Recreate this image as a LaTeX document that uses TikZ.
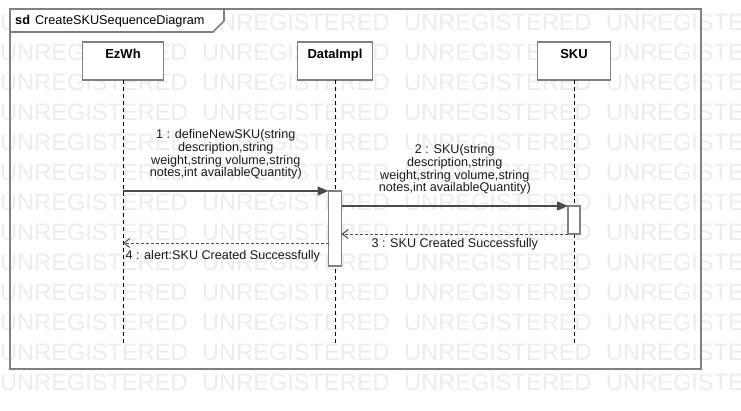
\documentclass[tikz,border=0pt]{standalone}
\usepackage{fontspec}
\setmainfont{Liberation Sans}
\usetikzlibrary{arrows.meta,positioning}

\definecolor{framegray}{HTML}{808080}
\definecolor{msggray}{HTML}{4A4A4A}
\definecolor{wmgray}{HTML}{ECECEC}

\tikzset{
  watermark/.style={anchor=west, inner sep=0pt, text=wmgray, font=\fontsize{23.6}{23.6}\selectfont},
  headbox/.style={draw=framegray, line width=1.5pt, fill=white, anchor=north, minimum height=38pt, inner sep=0pt, outer sep=0pt},
  headtext/.style={anchor=north, inner sep=0pt, font=\fontsize{13}{13}\selectfont\bfseries},
  actbox/.style={draw=framegray, line width=1.5pt, fill=white, anchor=north, inner sep=0pt, outer sep=0pt},
  lifeline/.style={black, line width=0.9pt, dash pattern=on 4pt off 3pt},
  call/.style={draw=msggray, line width=1.3pt, -{Triangle[length=11pt,width=9pt]}},
  reply/.style={draw=msggray, line width=1pt, dash pattern=on 3pt off 2pt, -{Straight Barb[length=6pt,width=9pt]}},
  msglabel/.style={align=center, inner sep=0pt, text=black!90, font=\fontsize{12.6}{12.6}\selectfont},
}

\begin{document}
\begin{tikzpicture}[x=1pt,y=-1pt]
\useasboundingbox (0,0) rectangle (741,410);

% watermark rows
\begin{scope}
  \clip (0,0) rectangle (741,410);
  \foreach \row in {0,...,12}
    \foreach \col in {0,...,3}
      \node[watermark] at (202*\col, 22+30*\row) {UNREGISTERED};
\end{scope}

% frame and title tab
\draw[framegray, line width=1.6pt] (10,9) rectangle (701,369);
\draw[framegray, line width=1.6pt, fill=white] (10,9) -- (224,9) -- (224,21) -- (213,32) -- (10,32) -- cycle;
\node[anchor=west, inner sep=0pt, font=\fontsize{12.7}{12.7}\selectfont] (title) at (15,21) {\textbf{sd}\hspace{5pt}CreateSKUSequenceDiagram};

% lifeline heads
\node[headbox, minimum width=81pt] (ezwh) at (123,42) {};
\node[headtext] (ezwhname) at ([yshift=-7pt]ezwh.north) {EzWh};
\node[headbox, minimum width=75pt] (data) at (335,42) {};
\node[headtext] (dataname) at ([yshift=-7pt]data.north) {DataImpl};
\node[headbox, minimum width=73pt] (sku) at (574,42) {};
\node[headtext] (skuname) at ([yshift=-7pt]sku.north) {SKU};

% lifelines
\coordinate (lifeend) at (0,343);
\draw[lifeline] (ezwh.south) -- (ezwh.south |- lifeend);
\draw[lifeline] (data.south) -- (data.south |- lifeend);
\draw[lifeline] (sku.south) -- (sku.south |- lifeend);

% activations
\node[actbox, minimum width=13pt, minimum height=75pt] (act1) at (335,191) {};
\node[actbox, minimum width=12pt, minimum height=28pt] (act2) at (574,206) {};

% messages
\draw[call] (ezwh.south |- act1.north) -- node[msglabel, above=11pt]{1 : defineNewSKU(string\\description,string\\weight,string volume,string\\notes,int availableQuantity)} (act1.north west);

\draw[call] (act1.east |- act2.north) -- node[msglabel, above=11pt]{2 : SKU(string\\description,string\\weight,string volume,string\\notes,int availableQuantity)} (act2.north west);

\draw[reply] (act2.south west) -- node[msglabel, below=4pt]{3 : SKU Created Successfully} (act1.east |- act2.south);

\coordinate (ret4) at ([yshift=-9pt]act1.west |- act2.south);
\draw[reply] (ret4) -- node[msglabel, below=7pt, xshift=-3pt]{4 : alert:SKU Created Successfully} (ezwh.south |- ret4);

\end{tikzpicture}
\end{document}
